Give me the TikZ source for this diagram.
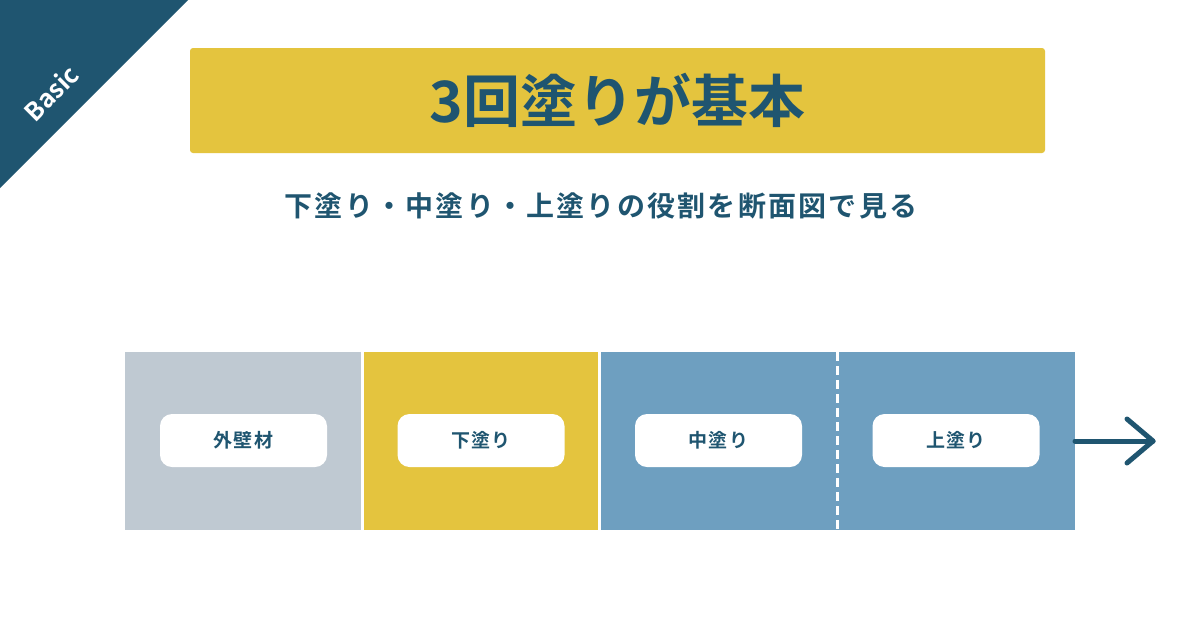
\documentclass[tikz,border=0pt]{standalone}
\usepackage{fontspec}
\setmainfont{Noto Sans CJK JP}[BoldFont={* Bold}]
\newfontfamily\spaced{Noto Sans CJK JP}[BoldFont={* Bold}, LetterSpace=8]
\newfontfamily\lblfont{Noto Sans CJK JP}[BoldFont={* Bold}, LetterSpace=7]
\usetikzlibrary{arrows.meta}
\definecolor{navy}{HTML}{1F5570}
\definecolor{ylw}{HTML}{E4C43E}
\definecolor{gry}{HTML}{BFC9D2}
\definecolor{blu}{HTML}{6E9FC0}
\tikzset{
  lbl/.style={fill=white, rounded corners=12pt, minimum width=167pt, minimum height=53pt, inner sep=0pt, text=navy, font=\lblfont\bfseries\fontsize{19}{21}\selectfont},
}
\begin{document}
\begin{tikzpicture}[x=1pt,y=-1pt]
\useasboundingbox (0,0) rectangle (1200,630);
\fill[white] (0,0) rectangle (1200,630);
% corner
\fill[navy] (0,0) -- (188,0) -- (0,188) -- cycle;
\node[text=white, rotate=45, font=\bfseries\fontsize{25}{27}\selectfont] (basic) at (51,93) {Basic};
% title
\node[fill=ylw, rounded corners=3pt, minimum width=855pt, minimum height=105pt, inner sep=0pt, text=navy, font=\bfseries\fontsize{57}{60}\selectfont] (title) at (617.5,100.5) {3回塗りが基本};
\node[text=navy, font=\spaced\bfseries\fontsize{28}{30}\selectfont] (sub) at (601,206) {下塗り・中塗り・上塗りの役割を断面図で見る};
% segments
\fill[gry] (125,352) rectangle (361,530);
\fill[ylw] (364,352) rectangle (598,530);
\fill[blu] (601,352) rectangle (1075,530);
\draw[white, line width=3pt, dash pattern=on 9pt off 5pt] (837,352) -- (837,530);
\coordinate (barend) at (1075,441);
\coordinate (tip) at (1153,441);
\node[lbl] (l1) at (243.5,440.5) {外壁材};
\node[lbl] (l2) at (481,440.5) {下塗り};
\node[lbl] (l3) at (718.5,440.5) {中塗り};
\node[lbl] (l4) at (956,440.5) {上塗り};
% arrow
\draw[navy, line width=5pt, line cap=round] (barend) -- (tip);
\draw[navy, line width=5pt, line cap=round, line join=round] (1127,419) -- (tip) -- (1127,463);
\end{tikzpicture}
\end{document}
